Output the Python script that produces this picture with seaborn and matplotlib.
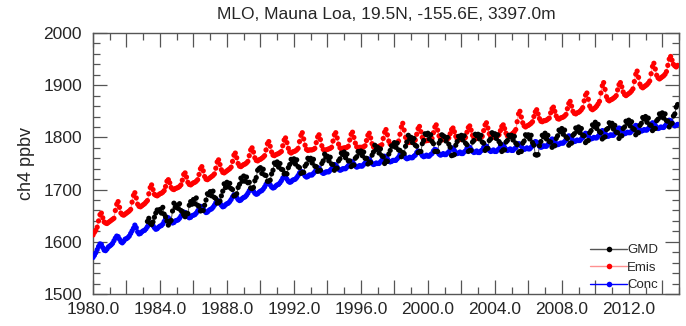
import numpy as np
import pandas as pd
import seaborn as sns
import matplotlib.pyplot as plt
from matplotlib.lines import Line2D
from matplotlib.ticker import MultipleLocator, FuncFormatter

# monthly values (Jan..Dec), one row per year
years = list(range(1980, 2015))

conc = [
    [1570, 1574, 1579, 1585, 1591, 1596, 1595, 1589, 1584, 1583, 1586, 1590],
    [1592, 1594, 1597, 1602, 1607, 1611, 1610, 1605, 1600, 1598, 1601, 1605],
    [1606, 1608, 1611, 1616, 1621, 1626, 1632, 1627, 1619, 1615, 1616, 1619],
    [1621, 1622, 1625, 1629, 1633, 1636, 1635, 1631, 1627, 1624, 1625, 1628],
    [1630, 1631, 1634, 1639, 1644, 1647, 1646, 1642, 1638, 1636, 1637, 1640],
    [1641, 1642, 1645, 1649, 1654, 1657, 1656, 1652, 1648, 1646, 1647, 1650],
    [1651, 1652, 1655, 1659, 1664, 1668, 1667, 1663, 1659, 1656, 1657, 1660],
    [1662, 1663, 1666, 1670, 1675, 1679, 1678, 1674, 1670, 1667, 1668, 1671],
    [1673, 1674, 1677, 1681, 1686, 1690, 1689, 1685, 1681, 1679, 1680, 1683],
    [1685, 1686, 1689, 1693, 1698, 1702, 1701, 1697, 1693, 1691, 1692, 1695],
    [1697, 1698, 1701, 1705, 1710, 1714, 1713, 1709, 1705, 1703, 1704, 1707],
    [1709, 1710, 1713, 1717, 1722, 1725, 1724, 1720, 1716, 1714, 1715, 1718],
    [1719, 1720, 1723, 1727, 1732, 1735, 1734, 1730, 1726, 1724, 1725, 1728],
    [1728, 1728, 1731, 1734, 1739, 1742, 1741, 1737, 1733, 1731, 1732, 1734],
    [1734, 1734, 1737, 1740, 1745, 1748, 1747, 1743, 1739, 1737, 1738, 1740],
    [1740, 1740, 1743, 1746, 1751, 1754, 1753, 1749, 1745, 1743, 1744, 1746],
    [1745, 1745, 1748, 1751, 1756, 1759, 1758, 1754, 1750, 1748, 1749, 1751],
    [1750, 1750, 1753, 1756, 1761, 1764, 1763, 1759, 1755, 1753, 1754, 1756],
    [1756, 1756, 1759, 1762, 1767, 1770, 1769, 1765, 1761, 1759, 1760, 1762],
    [1761, 1761, 1764, 1766, 1771, 1774, 1773, 1769, 1765, 1763, 1764, 1766],
    [1764, 1764, 1767, 1769, 1774, 1777, 1776, 1772, 1768, 1766, 1767, 1769],
    [1767, 1767, 1770, 1772, 1777, 1780, 1779, 1775, 1771, 1769, 1770, 1772],
    [1769, 1769, 1772, 1774, 1779, 1782, 1781, 1777, 1773, 1771, 1772, 1774],
    [1771, 1771, 1774, 1776, 1781, 1784, 1783, 1779, 1775, 1773, 1774, 1776],
    [1773, 1773, 1776, 1778, 1783, 1786, 1785, 1781, 1777, 1775, 1776, 1778],
    [1775, 1775, 1778, 1780, 1785, 1788, 1787, 1783, 1779, 1777, 1778, 1780],
    [1778, 1778, 1781, 1784, 1789, 1792, 1791, 1787, 1783, 1781, 1782, 1784],
    [1783, 1783, 1786, 1789, 1794, 1797, 1796, 1792, 1788, 1786, 1787, 1789],
    [1789, 1789, 1792, 1795, 1800, 1803, 1802, 1798, 1794, 1792, 1793, 1795],
    [1794, 1794, 1797, 1800, 1805, 1808, 1807, 1803, 1799, 1797, 1798, 1800],
    [1799, 1799, 1802, 1805, 1810, 1813, 1812, 1808, 1804, 1802, 1803, 1805],
    [1804, 1804, 1807, 1810, 1815, 1818, 1817, 1813, 1809, 1807, 1808, 1810],
    [1809, 1809, 1812, 1815, 1820, 1823, 1822, 1818, 1814, 1812, 1813, 1815],
    [1814, 1814, 1817, 1820, 1825, 1828, 1827, 1823, 1819, 1817, 1818, 1820],
    [1819, 1819, 1822, 1825, 1830, 1833, 1832, 1828, 1824, 1822, 1823, 1825],
]

emis = [
    [1613, 1618, 1622, 1628, 1640, 1652, 1655, 1646, 1638, 1636, 1635, 1637],
    [1639, 1641, 1643, 1645, 1660, 1672, 1677, 1666, 1655, 1652, 1651, 1653],
    [1655, 1657, 1659, 1662, 1676, 1689, 1694, 1684, 1672, 1668, 1667, 1669],
    [1671, 1673, 1676, 1679, 1692, 1704, 1709, 1700, 1691, 1689, 1688, 1690],
    [1692, 1693, 1695, 1698, 1706, 1716, 1719, 1713, 1704, 1701, 1700, 1702],
    [1703, 1704, 1706, 1709, 1718, 1729, 1732, 1724, 1714, 1710, 1709, 1711],
    [1713, 1714, 1716, 1719, 1729, 1740, 1744, 1736, 1725, 1720, 1719, 1721],
    [1723, 1725, 1727, 1730, 1741, 1753, 1757, 1748, 1738, 1733, 1732, 1734],
    [1736, 1738, 1740, 1743, 1754, 1766, 1770, 1761, 1750, 1745, 1744, 1746],
    [1748, 1749, 1751, 1754, 1765, 1776, 1780, 1772, 1761, 1756, 1755, 1757],
    [1758, 1760, 1762, 1765, 1776, 1788, 1792, 1783, 1772, 1766, 1765, 1767],
    [1768, 1769, 1771, 1773, 1784, 1795, 1799, 1790, 1779, 1772, 1770, 1772],
    [1773, 1774, 1776, 1779, 1792, 1804, 1809, 1797, 1785, 1777, 1775, 1776],
    [1776, 1776, 1777, 1779, 1790, 1801, 1805, 1796, 1784, 1777, 1775, 1776],
    [1777, 1778, 1779, 1781, 1793, 1805, 1809, 1799, 1787, 1780, 1778, 1779],
    [1780, 1780, 1781, 1783, 1795, 1806, 1810, 1800, 1789, 1782, 1780, 1781],
    [1781, 1781, 1782, 1784, 1794, 1804, 1808, 1799, 1788, 1782, 1780, 1781],
    [1782, 1783, 1784, 1786, 1798, 1810, 1815, 1805, 1793, 1787, 1785, 1786],
    [1787, 1788, 1790, 1793, 1806, 1820, 1827, 1814, 1800, 1792, 1790, 1791],
    [1791, 1792, 1793, 1795, 1806, 1817, 1821, 1811, 1800, 1795, 1793, 1794],
    [1794, 1795, 1796, 1798, 1809, 1820, 1824, 1814, 1803, 1797, 1795, 1796],
    [1796, 1796, 1797, 1799, 1807, 1815, 1818, 1811, 1802, 1797, 1795, 1796],
    [1796, 1797, 1798, 1800, 1810, 1819, 1822, 1814, 1804, 1799, 1797, 1798],
    [1798, 1799, 1800, 1802, 1813, 1824, 1828, 1818, 1807, 1802, 1800, 1801],
    [1801, 1802, 1803, 1805, 1813, 1821, 1824, 1817, 1808, 1803, 1802, 1804],
    [1806, 1808, 1811, 1815, 1830, 1845, 1850, 1839, 1828, 1822, 1820, 1822],
    [1823, 1825, 1827, 1830, 1840, 1849, 1853, 1845, 1836, 1831, 1830, 1832],
    [1832, 1833, 1835, 1837, 1847, 1855, 1858, 1850, 1841, 1836, 1835, 1837],
    [1838, 1839, 1841, 1844, 1855, 1865, 1869, 1860, 1850, 1846, 1845, 1847],
    [1848, 1850, 1853, 1857, 1870, 1881, 1885, 1873, 1860, 1855, 1853, 1855],
    [1857, 1860, 1864, 1869, 1885, 1899, 1905, 1892, 1878, 1872, 1870, 1872],
    [1873, 1875, 1877, 1880, 1891, 1901, 1905, 1897, 1887, 1882, 1880, 1882],
    [1884, 1886, 1889, 1893, 1907, 1921, 1927, 1915, 1902, 1897, 1895, 1897],
    [1899, 1901, 1904, 1908, 1922, 1936, 1942, 1931, 1919, 1914, 1912, 1914],
    [1916, 1918, 1921, 1926, 1938, 1950, 1955, 1948, 1940, 1937, 1935, 1938],
]

# GMD record starts in April 1983
gmd_first_month = 3
gmd = [
    [1639, 1645, 1636, 1633, 1638, 1647, 1655, 1661, 1659],
    [1662, 1655, 1666, 1653, 1648, 1640, 1632, 1638, 1641, 1659, 1674, 1666],
    [1670, 1664, 1673, 1660, 1658, 1652, 1648, 1655, 1654, 1670, 1677, 1672],
    [1681, 1673, 1684, 1670, 1668, 1659, 1660, 1660, 1670, 1680, 1692, 1690],
    [1696, 1688, 1697, 1685, 1683, 1674, 1675, 1678, 1688, 1697, 1711, 1704],
    [1714, 1705, 1712, 1702, 1700, 1688, 1689, 1692, 1704, 1710, 1722, 1716],
    [1726, 1716, 1724, 1713, 1714, 1703, 1702, 1704, 1717, 1723, 1737, 1740],
    [1742, 1731, 1739, 1728, 1727, 1716, 1716, 1718, 1730, 1737, 1751, 1748],
    [1753, 1743, 1750, 1739, 1738, 1730, 1731, 1730, 1742, 1748, 1758, 1753],
    [1759, 1749, 1757, 1744, 1742, 1731, 1733, 1733, 1745, 1749, 1760, 1757],
    [1760, 1751, 1758, 1745, 1744, 1735, 1736, 1737, 1750, 1755, 1768, 1762],
    [1764, 1755, 1762, 1749, 1748, 1737, 1741, 1741, 1755, 1759, 1770, 1767],
    [1772, 1761, 1768, 1755, 1755, 1744, 1747, 1747, 1760, 1763, 1773, 1770],
    [1774, 1765, 1772, 1760, 1760, 1749, 1753, 1752, 1766, 1772, 1785, 1777],
    [1781, 1770, 1778, 1765, 1763, 1750, 1755, 1754, 1768, 1775, 1784, 1783],
    [1790, 1781, 1789, 1776, 1775, 1763, 1771, 1769, 1783, 1791, 1804, 1797],
    [1800, 1790, 1798, 1785, 1783, 1771, 1773, 1773, 1788, 1794, 1807, 1805],
    [1808, 1797, 1805, 1792, 1788, 1773, 1773, 1773, 1789, 1794, 1805, 1803],
    [1801, 1793, 1800, 1787, 1781, 1765, 1766, 1767, 1785, 1792, 1802, 1799],
    [1804, 1795, 1803, 1789, 1786, 1773, 1775, 1775, 1791, 1794, 1806, 1803],
    [1806, 1797, 1804, 1791, 1789, 1775, 1779, 1779, 1794, 1797, 1809, 1805],
    [1807, 1798, 1805, 1792, 1788, 1773, 1776, 1776, 1791, 1794, 1804, 1801],
    [1804, 1795, 1802, 1789, 1786, 1771, 1773, 1773, 1789, 1793, 1805, 1802],
    [1805, 1797, 1804, 1790, 1785, 1767, 1766, 1767, 1784, 1792, 1804, 1801],
    [1808, 1797, 1804, 1792, 1791, 1781, 1784, 1784, 1798, 1803, 1814, 1811],
    [1817, 1806, 1814, 1801, 1798, 1785, 1789, 1789, 1804, 1807, 1818, 1812],
    [1820, 1809, 1817, 1804, 1803, 1790, 1793, 1794, 1809, 1813, 1824, 1821],
    [1829, 1817, 1825, 1811, 1809, 1797, 1800, 1801, 1815, 1817, 1828, 1822],
    [1827, 1816, 1823, 1810, 1809, 1798, 1803, 1803, 1817, 1820, 1831, 1827],
    [1833, 1822, 1830, 1817, 1815, 1805, 1809, 1809, 1823, 1827, 1838, 1835],
    [1840, 1829, 1837, 1824, 1823, 1813, 1817, 1817, 1832, 1835, 1845, 1839],
    [1847, 1837, 1845, 1832, 1831, 1820, 1825, 1827, 1841, 1845, 1858, 1863],
]

title = "MLO, Mauna Loa, 19.5N, -155.6E, 3397.0m"


def to_frame(rows, first_year, first_month=0):
    t, v = [], []
    for i, row in enumerate(rows):
        m0 = first_month if i == 0 else 0
        for j, val in enumerate(row):
            t.append(first_year + i + (m0 + j) / 12.0)
            v.append(val)
    return pd.DataFrame({"time": t, "ch4": v})


df_conc = to_frame(conc, years[0])
df_emis = to_frame(emis, years[0])
df_gmd = to_frame(gmd, 1983, gmd_first_month)

sns.set_style("ticks")
plt.rcParams["font.family"] = ["Liberation Sans", "DejaVu Sans"]

fig = plt.figure(figsize=(6.86, 3.26), dpi=100)
ax = fig.add_axes([93 / 686, 32 / 326, 586 / 686, 261 / 326])

series = [
    ("Conc", df_conc, "#0000ff", "#0000ff"),
    ("Emis", df_emis, "#ff0000", "#ff9090"),
    ("GMD", df_gmd, "#000000", "#555555"),
]
for name, d, mc, lc in series:
    sns.lineplot(data=d, x="time", y="ch4", color=lc, linewidth=0.7, ax=ax)
    sns.scatterplot(data=d, x="time", y="ch4", color=mc, s=14,
                    edgecolor="none", linewidth=0, ax=ax, zorder=3)

ax.set_xlim(1980, 2015)
ax.set_ylim(1500, 2000)
ax.xaxis.set_major_locator(MultipleLocator(2))
ax.xaxis.set_minor_locator(MultipleLocator(1))
ax.xaxis.set_major_formatter(
    FuncFormatter(lambda v, p: f"{v:.1f}" if round(v) % 4 == 0 else ""))
ax.yaxis.set_major_locator(MultipleLocator(100))
ax.yaxis.set_minor_locator(MultipleLocator(20))

ax.tick_params(which="both", direction="in", top=True, right=True,
               color="#555555", width=0.9, labelsize=12.5)
ax.tick_params(which="major", length=10)
ax.tick_params(which="minor", length=5)
ax.tick_params(axis="x", pad=6)
ax.tick_params(axis="y", pad=8)
for s in ax.spines.values():
    s.set_color("#555555")
    s.set_linewidth(1.0)

ax.set_xlabel("")
ax.set_ylabel("ch4 ppbv", fontsize=13, labelpad=6)
ax.set_title(title, fontsize=12.5, pad=10)

handles = [
    Line2D([], [], color="#555555", lw=1, marker="o", markersize=4,
           markerfacecolor="#000000", markeredgecolor="none"),
    Line2D([], [], color="#ff9090", lw=1, marker="o", markersize=4,
           markerfacecolor="#ff0000", markeredgecolor="none"),
    Line2D([], [], color="#0000ff", lw=1, marker="o", markersize=4,
           markerfacecolor="#0000ff", markeredgecolor="none"),
]
ax.legend(handles, ["GMD", "Emis", "Conc"], loc="lower right",
          bbox_to_anchor=(0.985, -0.035), frameon=False, fontsize=9.5,
          handlelength=2.8, handletextpad=0.0, labelspacing=0.4)

fig.savefig("out.png", dpi=100)
